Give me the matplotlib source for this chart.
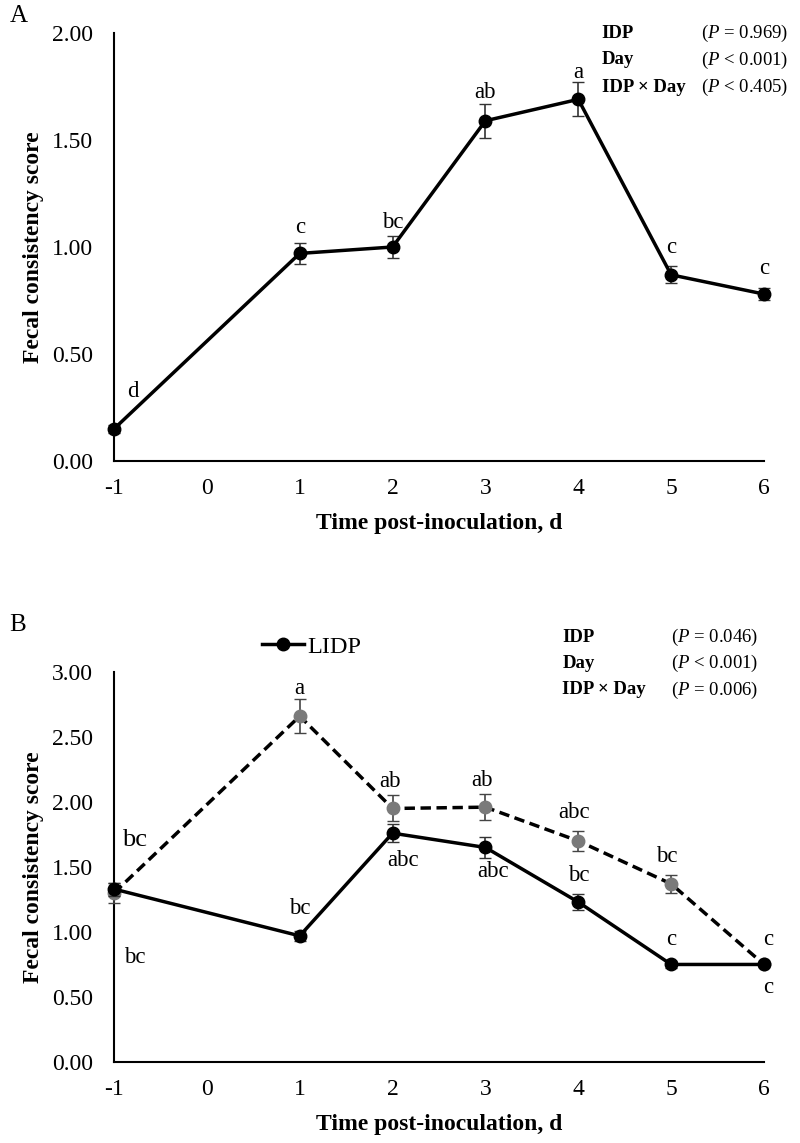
import numpy as np
import matplotlib
matplotlib.use("Agg")
import matplotlib.pyplot as plt
from matplotlib.lines import Line2D

plt.rcParams['font.family'] = ['Liberation Serif', 'DejaVu Serif']
plt.rcParams['mathtext.fontset'] = 'custom'
plt.rcParams['mathtext.rm'] = 'Liberation Serif'
plt.rcParams['mathtext.it'] = 'Liberation Serif:italic'

# data
days = [-1, 1, 2, 3, 4, 5, 6]
ticks = [-1, 0, 1, 2, 3, 4, 5, 6]

a_mean = [0.15, 0.97, 1.00, 1.59, 1.69, 0.87, 0.78]
a_err = [0.02, 0.05, 0.05, 0.08, 0.08, 0.04, 0.03]
a_lab = ['d', 'c', 'bc', 'ab', 'a', 'c', 'c']

lidp_mean = [1.33, 0.97, 1.76, 1.65, 1.23, 0.75, 0.75]
lidp_err = [0.05, 0.04, 0.07, 0.08, 0.06, 0.03, 0.01]
lidp_lab = ['bc', 'bc', 'abc', 'abc', 'bc', 'c', 'c']

hidp_mean = [1.30, 2.66, 1.95, 1.96, 1.70, 1.37, 0.75]
hidp_err = [0.08, 0.13, 0.10, 0.10, 0.08, 0.07, 0.01]
hidp_lab = ['bc', 'a', 'ab', 'ab', 'abc', 'bc', 'c']

stats_a = [('IDP', '= 0.969'), ('Day', '< 0.001'), ('IDP \u00d7 Day', '< 0.405')]
stats_b = [('IDP', '= 0.046'), ('Day', '< 0.001'), ('IDP \u00d7 Day', '= 0.006')]

# label offsets in pixels (dx, dy)
a_off = [(19, 37), (0, 26), (0, 25), (0, 28), (0, 27), (0, 27), (0, 26)]
lidp_off = [(21, -68), (0, 27), (10, -27), (8, -24), (0, 27), (0, 25), (4, -23)]
hidp_off = [(21, 53), (0, 28), (-3, 27), (-3, 27), (-4, 28), (-4, 27), (4, 25)]

GRAY = '#7a7a7a'
fig = plt.figure(figsize=(8, 11.43), dpi=100)


def style_axes(ax, ymax, yticks):
    ax.set_xlim(-1, 6)
    ax.set_ylim(0, ymax)
    ax.set_xticks(ticks)
    ax.set_xticklabels([str(t) for t in ticks])
    ax.set_yticks(yticks)
    ax.set_yticklabels(['%.2f' % v for v in yticks])
    for s in ['top', 'right']:
        ax.spines[s].set_visible(False)
    for s in ['left', 'bottom']:
        ax.spines[s].set_linewidth(1.5)
    ax.tick_params(length=0, labelsize=17)
    ax.tick_params(axis='x', pad=12)
    ax.tick_params(axis='y', pad=15)
    ax.set_xlabel('Time post-inoculation, d', fontsize=17, fontweight='bold', labelpad=10)
    ax.set_ylabel('Fecal consistency score', fontsize=17, fontweight='bold', labelpad=6)


def put_labels(ax, xs, ys, labs, offs, size=16.5):
    for x, y, t, (dx, dy) in zip(xs, ys, labs, offs):
        ax.annotate(t, (x, y), xytext=(dx, dy), textcoords='offset pixels',
                    ha='center', va='center', fontsize=size, annotation_clip=False)


def put_stats(fx_left, fx_right, fy, step, rows):
    for i, (name, val) in enumerate(rows):
        y = fy - i * step
        fig.text(fx_left, y, name, fontsize=13.5, fontweight='bold', va='center')
        fig.text(fx_right, y, '($\\it{P}$ ' + val + ')', fontsize=13.5, ha='right', va='center')


# panel A
axA = fig.add_axes([0.1425, 0.5967, 0.8125, 0.3744])
axA.errorbar(days, a_mean, yerr=a_err, color='black', lw=2.5, marker='o', ms=9,
             ecolor='#333333', elinewidth=1.2, capsize=4, clip_on=False, zorder=3)
style_axes(axA, 2.0, [0.0, 0.5, 1.0, 1.5, 2.0])
put_labels(axA, days, a_mean, a_lab, a_off)
fig.text(0.012, 0.986, 'A', fontsize=18, va='center')
put_stats(0.752, 0.985, 1 - 33 / 1143, 27 / 1143, stats_a)

# panel B
axB = fig.add_axes([0.1425, 0.0709, 0.8125, 0.3412])
axB.errorbar(days, hidp_mean, yerr=hidp_err, color='black', lw=2.5, ls=(0, (3, 1.6)),
             marker='o', ms=9, mfc=GRAY, mec=GRAY, ecolor='#444444', elinewidth=1.2,
             capsize=4, clip_on=False, zorder=3)
axB.errorbar(days, lidp_mean, yerr=lidp_err, color='black', lw=2.5, marker='o', ms=9,
             ecolor='#333333', elinewidth=1.2, capsize=4, clip_on=False, zorder=4)
style_axes(axB, 3.0, [0.0, 0.5, 1.0, 1.5, 2.0, 2.5, 3.0])
put_labels(axB, days, lidp_mean, lidp_lab, lidp_off)
put_labels(axB, days[:1], hidp_mean[:1], hidp_lab[:1], hidp_off[:1], size=19)
put_labels(axB, days[1:], hidp_mean[1:], hidp_lab[1:], hidp_off[1:])
fig.text(0.012, 1 - 625 / 1143, 'B', fontsize=18, va='center')
put_stats(0.703, 0.948, 1 - 637 / 1143, 26.5 / 1143, stats_b)

h = Line2D([], [], color='black', lw=2.5, marker='o', ms=9)
fig.legend([h], ['LIDP'], loc='center left', bbox_to_anchor=(0.328, 1 - 647 / 1143),
           frameon=False, fontsize=17.5, handlelength=1.7, handletextpad=0.15,
           borderaxespad=0, borderpad=0)

fig.savefig('out.png', dpi=100)
